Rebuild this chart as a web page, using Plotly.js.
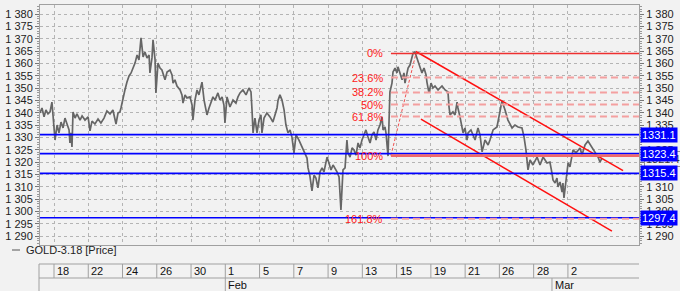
<!DOCTYPE html>
<html><head><meta charset="utf-8">
<script src="https://cdn.plot.ly/plotly-3.0.1.min.js"></script>
<style>html,body{margin:0;padding:0;background:#f2f2f2;}#chart{width:680px;height:291px;}</style>
</head><body><div id="chart"></div>
<script>
// ---- data (time in trading-day units from 18 Jan, price in USD) ----
const priceT = [-0.82,-0.70,-0.58,-0.47,-0.35,-0.23,-0.12,-0.06,0.06,0.18,0.29,0.41,0.53,0.64,0.76,0.88,0.93,0.99,1.05,1.11,1.23,1.34,1.52,1.64,1.81,1.99,2.10,2.22,2.39,2.57,2.74,2.92,3.09,3.27,3.44,3.62,3.74,3.85,3.91,4.03,4.14,4.26,4.38,4.50,4.61,4.73,4.85,4.96,5.08,5.20,5.31,5.43,5.55,5.60,5.72,5.78,5.90,5.95,6.07,6.19,6.30,6.42,6.48,6.60,6.77,6.89,6.95,7.06,7.18,7.36,7.47,7.53,7.65,7.76,7.94,8.06,8.11,8.23,8.35,8.46,8.58,8.64,8.76,8.87,8.93,9.05,9.16,9.28,9.40,9.57,9.69,9.81,9.92,9.98,10.10,10.27,10.45,10.62,10.74,10.86,11.03,11.21,11.38,11.50,11.56,11.62,11.73,11.85,11.97,12.08,12.14,12.26,12.43,12.61,12.78,12.90,13.02,13.08,13.19,13.31,13.43,13.54,13.66,13.78,13.89,14.01,14.13,14.30,14.42,14.54,14.65,14.77,14.83,14.94,15.06,15.18,15.29,15.41,15.53,15.65,15.76,15.94,16.05,16.17,16.29,16.40,16.52,16.64,16.75,16.87,16.99,17.10,17.16,17.28,17.40,17.51,17.63,17.75,17.86,17.98,18.10,18.21,18.33,18.45,18.56,18.68,18.80,18.91,19.03,19.15,19.21,19.32,19.38,19.50,19.56,19.61,19.73,19.79,19.91,20.02,20.08,20.20,20.32,20.43,20.49,20.61,20.67,20.78,20.90,20.96,21.07,21.19,21.31,21.42,21.48,21.60,21.72,21.77,21.89,22.01,22.12,22.24,22.42,22.53,22.65,22.83,23.00,23.06,23.12,23.29,23.41,23.53,23.58,23.70,23.82,23.88,23.99,24.11,24.17,24.34,24.58,24.75,24.87,24.99,25.16,25.34,25.45,25.63,25.86,26.04,26.15,26.33,26.50,26.74,26.91,27.09,27.32,27.44,27.55,27.67,27.79,27.96,28.20,28.37,28.55,28.78,28.95,29.07,29.13,29.25,29.36,29.42,29.54,29.66,29.71,29.77,29.89,29.95,30.01,30.12,30.24,30.30,30.47,30.71,30.82,31.00,31.17,31.41,31.58,31.76,31.87,31.99];
const priceP = [1339.9,1341.9,1338.3,1341.1,1339.5,1340.3,1344.3,1337.8,1328.9,1335.0,1331.8,1336.2,1333.8,1337.8,1335.0,1333.0,1327.7,1331.8,1326.1,1340.3,1337.8,1339.5,1337.0,1338.7,1337.0,1338.3,1332.6,1336.6,1335.4,1337.4,1335.8,1337.8,1340.7,1339.5,1341.1,1335.4,1339.9,1340.3,1341.9,1346.4,1349.2,1352.4,1354.9,1356.1,1358.1,1360.1,1363.4,1361.4,1370.3,1362.6,1364.6,1362.2,1363.4,1356.1,1362.2,1369.5,1361.4,1348.0,1360.1,1358.1,1357.3,1354.5,1353.3,1356.5,1357.3,1355.3,1352.0,1353.3,1350.8,1349.2,1347.2,1343.9,1347.2,1346.0,1346.4,1343.1,1337.0,1345.1,1349.2,1347.2,1350.0,1352.4,1345.1,1341.9,1339.1,1341.9,1343.9,1346.4,1345.1,1348.0,1345.1,1346.4,1343.1,1335.8,1346.4,1342.3,1345.1,1343.9,1346.4,1348.0,1349.2,1347.2,1350.0,1348.4,1341.1,1331.8,1337.8,1331.8,1337.0,1339.1,1331.8,1337.8,1339.9,1338.3,1336.2,1339.1,1341.9,1345.1,1347.2,1345.1,1341.1,1335.0,1331.8,1333.0,1330.1,1323.7,1331.0,1328.9,1326.9,1324.9,1323.7,1321.6,1317.6,1314.3,1308.3,1314.7,1313.5,1309.5,1316.0,1317.6,1316.0,1322.0,1319.6,1316.8,1318.8,1317.6,1316.0,1313.9,1300.6,1316.8,1317.6,1328.9,1323.7,1322.0,1325.7,1324.9,1322.8,1327.7,1325.7,1328.9,1331.0,1333.0,1330.1,1327.7,1331.0,1332.2,1328.9,1333.0,1335.0,1338.3,1333.0,1334.2,1331.8,1322.4,1337.0,1348.4,1352.0,1356.5,1358.1,1356.1,1358.6,1356.1,1353.3,1356.1,1352.0,1356.1,1358.1,1359.3,1362.2,1364.1,1364.6,1362.2,1360.1,1358.1,1356.1,1358.1,1355.3,1352.4,1348.0,1352.0,1350.0,1350.8,1349.2,1350.0,1350.8,1349.2,1348.4,1342.3,1339.1,1340.3,1339.1,1344.3,1341.9,1338.3,1333.8,1331.8,1333.8,1328.9,1331.8,1333.0,1328.9,1333.8,1331.0,1324.1,1328.9,1326.9,1328.9,1333.0,1334.2,1339.9,1344.7,1341.1,1337.0,1333.8,1335.0,1334.2,1333.8,1330.1,1324.9,1316.8,1320.8,1318.8,1322.0,1318.8,1322.0,1319.6,1320.0,1315.5,1312.7,1311.5,1313.5,1309.9,1311.9,1307.8,1311.5,1305.4,1311.9,1316.8,1319.6,1318.0,1322.0,1324.9,1323.7,1325.7,1322.8,1326.9,1328.5,1325.7,1324.1,1322.0,1320.0,1321.6];

const yTickVals = [1290,1295,1300,1305,1310,1315,1320,1325,1330,1335,1340,1345,1350,1355,1360,1365,1370,1375,1380];
const yTickText = ['1 290','1 295','1 300','1 305','1 310','1 315','1 320','1 325','1 330','1 335','1 340','1 345','1 350','1 355','1 360','1 365','1 370','1 375','1 380'];
const dateTickT = [0,2,4,6,8,10,12,14,16,18,20,22,24,26,28,30];
const dateTickLabels = ['18','22','24','26','30','1','5','7','9','13','15','19','21','26','28','2'];
const monthT = [10, 29.07];
const monthLabels = ['Feb','Mar'];
const blueLevels = [1331.1, 1323.4, 1315.4, 1297.4];
const lastPrice = 1321.4;
const fibHigh = 1364.0, fibLow = 1322.6;
const fibLowT = 19.67, fibHighT = 21.13;
const fibLevels = [0, 23.6, 38.2, 50, 61.8, 100, 161.8];
const upperChannelT = [21.13, 33.22], upperChannelP = [1364.8, 1316.5];
const lowerChannelT = [21.42, 32.57], lowerChannelP = [1337.4, 1292.0];
const seriesName = 'GOLD-3.18 [Price]';

const xRange = [-0.817, 34.15];
const yRange = [1286.35, 1383.65];

// ---- layout helpers (pixel -> paper) ----
const M = {l:40, r:41, t:5, b:46};
const PH = 291 - M.t - M.b, PW = 680 - M.l - M.r;
const py = p => (291 - M.b - p) / PH;
const px = p => (p - M.l) / PW;

const FONT = 'Liberation Sans, Arial, sans-serif';
const frame = '#a0a0a0';

const traces = [
  {x: priceT, y: priceP, type:'scatter', mode:'lines', line:{color:'#666666', width:1.7}, hoverinfo:'skip'},
  {x: [fibLowT, fibHighT], y:[fibLow, fibHigh], type:'scatter', mode:'lines', line:{color:'#f05050', width:1, dash:'3px,2px'}, hoverinfo:'skip'},
  {x: upperChannelT, y: upperChannelP, type:'scatter', mode:'lines', line:{color:'#ff1010', width:1.5}, hoverinfo:'skip'},
  {x: lowerChannelT, y: lowerChannelP, type:'scatter', mode:'lines', line:{color:'#ff1010', width:1.5}, hoverinfo:'skip'},
  {x: [null], y: [null], yaxis:'y2', type:'scatter', mode:'lines', hoverinfo:'skip'}
];

const shapes = [];
const annotations = [];

// blue horizontal levels
blueLevels.forEach(v => shapes.push({type:'line', xref:'paper', yref:'y', x0:0, x1:1, y0:v, y1:v, line:{color:'#0000ff', width:1.6}, layer:'above'}));

// fibonacci levels
fibLevels.forEach(l => {
  const v = fibHigh - (fibHigh - fibLow) * l / 100;
  const solid = (l === 0 || l === 100);
  shapes.push({type:'line', xref:'x', yref:'y', x0:fibLowT, x1:xRange[1], y0:v, y1:v,
    line: solid ? {color: l===0 ? '#ee3030' : '#f06a6a', width: l===0 ? 1.4 : 2.6}
                : {color:'#f4a0a0', width:2, dash:'7px,4px'}, layer:'above'});
  annotations.push({x:fibLowT, xref:'x', y:v, yref:'y', xanchor:'right', yanchor:'middle', xshift:-6,
    text: l + '%', showarrow:false, font:{family:FONT, size:11, color:'#ff2020'}});
});

// last price + level boxes on right axis
annotations.push({x:1, xref:'paper', y:lastPrice, yref:'y', xanchor:'left', yanchor:'middle', xshift:5,
  text: lastPrice.toFixed(1), showarrow:false, bgcolor:'#f2f2f2', bordercolor:'#909090', borderwidth:1, borderpad:1,
  font:{family:FONT, size:11, color:'#333'}});
blueLevels.forEach(v => annotations.push({x:1, xref:'paper', y:v, yref:'y', xanchor:'left', yanchor:'middle', xshift:1,
  text: v.toFixed(1), showarrow:false, bgcolor:'#0000ff', borderpad:1,
  font:{family:FONT, size:11, color:'#ffffff'}}));

// legend
shapes.push({type:'line', xref:'paper', yref:'paper', x0:px(12), x1:px(20), y0:py(250), y1:py(250), line:{color:'#555', width:1}});
annotations.push({x:px(24), xref:'paper', y:py(250), yref:'paper', xanchor:'left', yanchor:'middle', text:seriesName, showarrow:false, font:{family:FONT, size:11, color:'#222'}});

// date panel
const panelTop = py(264), panelMid = py(278), panelBot = py(291);
shapes.push({type:'line', xref:'paper', yref:'paper', x0:px(39), x1:1, y0:panelTop, y1:panelTop, line:{color:frame, width:1}});
shapes.push({type:'line', xref:'paper', yref:'paper', x0:px(39), x1:1, y0:panelMid, y1:panelMid, line:{color:frame, width:1}});
shapes.push({type:'line', xref:'paper', yref:'paper', x0:px(39), x1:px(39), y0:panelTop, y1:panelBot, line:{color:frame, width:1}});
dateTickT.forEach((t, i) => {
  shapes.push({type:'line', xref:'x', yref:'paper', x0:t, x1:t, y0:panelTop, y1:panelMid, line:{color:frame, width:1}});
  annotations.push({x:t, xref:'x', y:py(271), yref:'paper', xanchor:'left', yanchor:'middle', xshift:1,
    text:dateTickLabels[i], showarrow:false, font:{family:FONT, size:11, color:'#111'}});
});
monthT.forEach((t, i) => {
  shapes.push({type:'line', xref:'x', yref:'paper', x0:t, x1:t, y0:panelMid, y1:panelBot, line:{color:frame, width:1}});
  annotations.push({x:t, xref:'x', y:py(285), yref:'paper', xanchor:'left', yanchor:'middle', xshift:1,
    text:monthLabels[i], showarrow:false, font:{family:FONT, size:11, color:'#111'}});
});

const yCommon = {
  range: yRange, tickmode:'array', tickvals: yTickVals, ticktext: yTickText,
  ticks:'outside', ticklen:4, tickcolor:'#777', zeroline:false, fixedrange:true,
  minor:{tickmode:'linear', tick0:1290, dtick:1, ticks:'outside', ticklen:2, tickcolor:'#999', showgrid:false}
};

const layout = {
  width:680, height:291, margin:M, showlegend:false,
  paper_bgcolor:'#f2f2f2', plot_bgcolor:'#f2f2f2',
  font:{family:FONT, size:11, color:'#222'},
  xaxis:{range:xRange, tickmode:'array', tickvals:dateTickT, showticklabels:false, ticks:'',
    showgrid:true, gridcolor:'#b4b4b4', griddash:'dot', gridwidth:1,
    showline:true, mirror:true, linecolor:frame, zeroline:false, fixedrange:true},
  yaxis: Object.assign({}, yCommon, {side:'left', showgrid:true, gridcolor:'#b4b4b4', griddash:'dot',
    showline:true, mirror:true, linecolor:frame}),
  yaxis2: Object.assign({}, yCommon, {side:'right', overlaying:'y', showgrid:false, showline:false}),
  shapes, annotations
};

Plotly.newPlot('chart', traces, layout, {staticPlot:true, displayModeBar:false});
</script></body></html>
